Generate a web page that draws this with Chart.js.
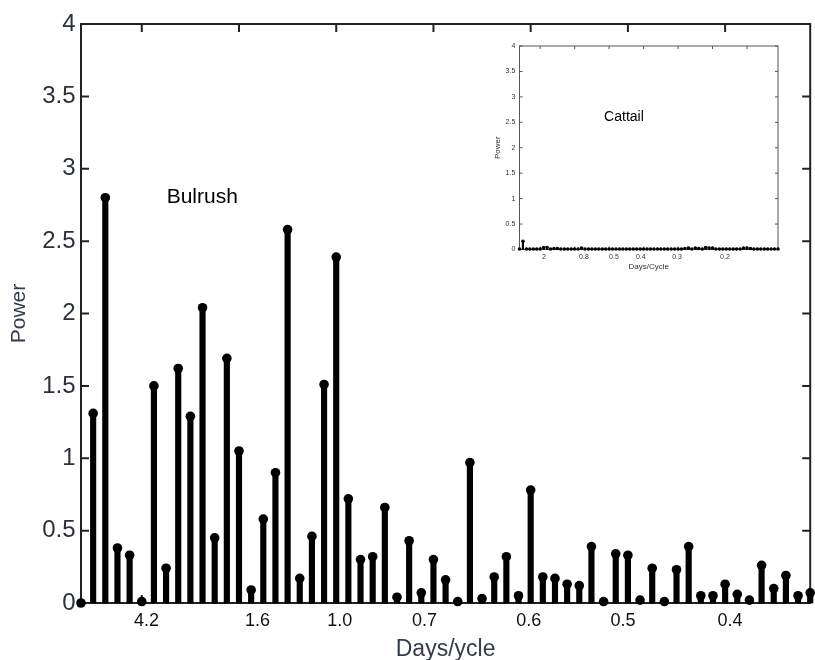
<!DOCTYPE html>
<html><head><meta charset="utf-8">
<script src="https://cdn.jsdelivr.net/npm/chart.js@4"></script>
<style>
html,body{margin:0;padding:0;background:#fff;}
#wrap{position:relative;width:815px;height:660px;overflow:hidden;}
#main{position:absolute;left:0;top:0;}
#inset{position:absolute;left:480px;top:36px;}
</style></head><body>
<div id="wrap"><canvas id="main" width="815" height="660"></canvas><canvas id="inset" width="305" height="240"></canvas></div>
<script>
// ---- Data: Bulrush (main panel) ----
const bulrushPower = [0, 1.31, 2.80, 0.38, 0.33, 0.01, 1.50, 0.24, 1.62, 1.29,
  2.04, 0.45, 1.69, 1.05, 0.09, 0.58, 0.90, 2.58, 0.17, 0.46,
  1.51, 2.39, 0.72, 0.30, 0.32, 0.66, 0.04, 0.43, 0.07, 0.30,
  0.16, 0.01, 0.97, 0.03, 0.18, 0.32, 0.05, 0.78, 0.18, 0.17,
  0.13, 0.12, 0.39, 0.01, 0.34, 0.33, 0.02, 0.24, 0.01, 0.23,
  0.39, 0.05, 0.05, 0.13, 0.06, 0.02, 0.26, 0.10, 0.19, 0.05, 0.07];
const bulrushTickPos = [5.39, 14.52, 21.3, 28.26, 36.84, 44.6, 53.4];
const bulrushTickLabels = ['4.2', '1.6', '1.0', '0.7', '0.6', '0.5', '0.4'];
const bulrushTopTicks = [5, 13, 21, 29, 37, 45, 53];
const powerTicks = [0, 0.5, 1, 1.5, 2, 2.5, 3, 3.5, 4];

// ---- Data: Cattail (inset panel) ----
const cattailPower = [0.01, 0.16, 0.01, 0.01, 0.01, 0.01, 0.01, 0.04, 0.04, 0.01,
  0.02, 0.02, 0.01, 0.01, 0.01, 0.01, 0.01, 0.01, 0.03, 0.01,
  0.01, 0.01, 0.01, 0.01, 0.01, 0.01, 0.01, 0.01, 0.01, 0.01,
  0.01, 0.01, 0.01, 0.01, 0.01, 0.01, 0.01, 0.01, 0.01, 0.01,
  0.01, 0.01, 0.01, 0.01, 0.01, 0.01, 0.01, 0.01, 0.02, 0.03,
  0.01, 0.03, 0.02, 0.01, 0.04, 0.03, 0.03, 0.01, 0.01, 0.01,
  0.01, 0.01, 0.01, 0.01, 0.01, 0.03, 0.03, 0.02, 0.01, 0.01,
  0.01, 0.01, 0.01, 0.01, 0.01, 0.01];
const cattailTickPos = [7.1, 18.7, 27.4, 35.2, 45.7, 59.6];
const cattailTickLabels = ['2', '0.8', '0.5', '0.4', '0.3', '0.2'];
const cattailTopTicks = [6, 16, 26, 36, 46, 56, 66];

const FONT = '"Liberation Sans", Arial, sans-serif';

function makeFrame(cfg) {
  return {
    id: 'frame_' + cfg.name,
    beforeDatasetsDraw(chart) {
      const {ctx, chartArea: a, scales: {x, y}} = chart;
      ctx.save();
      ctx.strokeStyle = cfg.color;
      ctx.lineWidth = cfg.lineWidth;
      ctx.strokeRect(a.left, a.top, a.right - a.left, a.bottom - a.top);
      ctx.beginPath();
      y.ticks.forEach(t => {
        const py = y.getPixelForValue(t.value);
        ctx.moveTo(a.left, py); ctx.lineTo(a.left + cfg.tickLen, py);
        ctx.moveTo(a.right, py); ctx.lineTo(a.right - cfg.tickLen, py);
      });
      cfg.topTicks.forEach(v => {
        const px = x.getPixelForValue(v);
        ctx.moveTo(px, a.top); ctx.lineTo(px, a.top + cfg.tickLen);
        ctx.moveTo(px, a.bottom); ctx.lineTo(px, a.bottom - cfg.tickLen);
      });
      ctx.stroke();
      const n = cfg.note;
      ctx.font = n.font; ctx.fillStyle = '#000';
      ctx.textAlign = n.align; ctx.textBaseline = 'middle';
      ctx.fillText(n.text, x.getPixelForValue(n.x), y.getPixelForValue(n.y));
      ctx.restore();
    }
  };
}

function stemChart(canvas, p) {
  const pts = p.values.map((v, i) => ({x: i, y: v}));
  return new Chart(canvas, {
    type: 'bar',
    data: {
      datasets: [
        {type: 'bar', data: pts, backgroundColor: '#000', borderWidth: 0,
         barThickness: p.stemW, clip: false, order: 2},
        {type: 'line', data: pts, showLine: false, pointRadius: p.dotR,
         pointBackgroundColor: '#000', pointBorderColor: '#000', pointBorderWidth: 0,
         clip: false, order: 1}
      ]
    },
    options: {
      responsive: false, animation: false, devicePixelRatio: 1,
      events: [],
      layout: {padding: p.pad},
      plugins: {legend: {display: false}, tooltip: {enabled: false}},
      scales: {
        x: {
          type: 'linear', position: 'bottom', min: 0, max: p.values.length - 1,
          offset: false,
          grid: {display: false, drawTicks: false, offset: false}, border: {display: false},
          afterBuildTicks: s => { s.ticks = p.tickPos.map(v => ({value: v})); },
          afterFit: s => { s.height = p.xH; },
          ticks: {autoSkip: false, maxRotation: 0, minRotation: 0, padding: p.xPad,
            color: p.tickColor, font: {family: FONT, size: p.xFont},
            callback: (v, i) => p.tickLabels[i]},
          title: {display: true, text: p.xTitle, color: p.titleColor,
            font: {family: FONT, size: p.xTitleFont}, padding: p.xTitlePad}
        },
        y: {
          min: 0, max: 4,
          grid: {display: false, drawTicks: false}, border: {display: false},
          afterBuildTicks: s => { s.ticks = powerTicks.map(v => ({value: v})); },
          afterFit: s => { s.width = p.yW; },
          ticks: {padding: p.yPad, color: p.yTickColor, font: {family: FONT, size: p.yFont},
            callback: v => String(v)},
          title: {display: true, text: 'Power', color: p.titleColor,
            font: {family: FONT, size: p.yTitleFont}, padding: p.yTitlePad}
        }
      }
    },
    plugins: [makeFrame(p.frame)]
  });
}

stemChart(document.getElementById('main'), {
  values: bulrushPower, tickPos: bulrushTickPos, tickLabels: bulrushTickLabels,
  stemW: 5.5, dotR: 4.8,
  pad: {top: 24, right: 1, left: 0, bottom: 0},
  xH: 57, xPad: 7, xFont: 18, tickColor: '#111',
  xTitle: 'Days/ycle', xTitleFont: 23, xTitlePad: {top: 0, bottom: -3},
  titleColor: '#343b4b',
  yW: 81, yPad: 5.5, yFont: 24, yTickColor: '#2b303b',
  yTitleFont: 21, yTitlePad: {top: 7, bottom: 0},
  frame: {name: 'main', color: '#222', lineWidth: 2, tickLen: 8,
    topTicks: bulrushTopTicks,
    note: {text: 'Bulrush', x: 7.05, y: 2.80, align: 'left', font: '21px ' + FONT}}
});

stemChart(document.getElementById('inset'), {
  values: cattailPower, tickPos: cattailTickPos, tickLabels: cattailTickLabels,
  stemW: 1.5, dotR: 1.8,
  pad: {top: 10, right: 7, left: 0, bottom: 0},
  xH: 26.5, xPad: 3, xFont: 7, tickColor: '#333',
  xTitle: 'Days/Cycle', xTitleFont: 8, xTitlePad: {top: 0, bottom: 4.2},
  titleColor: '#333',
  yW: 39.5, yPad: 4.2, yFont: 7, yTickColor: '#333',
  yTitleFont: 8, yTitlePad: {top: 13.2, bottom: 0},
  frame: {name: 'inset', color: '#555', lineWidth: 1, tickLen: 3,
    topTicks: cattailTopTicks,
    note: {text: 'Cattail', x: 30.3, y: 2.6, align: 'center', font: '14px ' + FONT}}
});
</script>
</body></html>
